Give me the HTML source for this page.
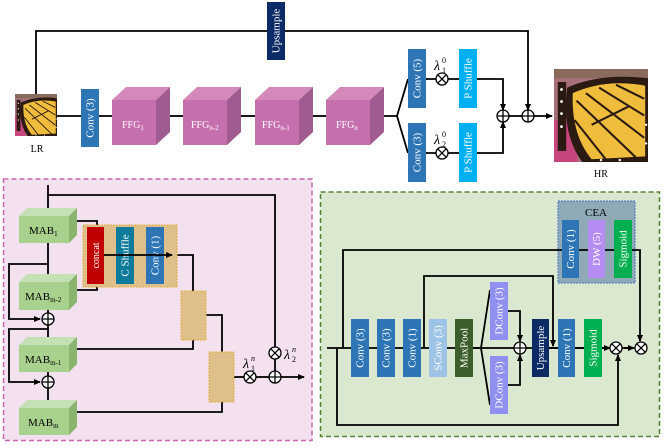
<!DOCTYPE html>
<html><head><meta charset="utf-8"><style>
html,body{margin:0;padding:0;background:#fff;width:664px;height:447px;overflow:hidden}
svg{display:block}
text{font-family:"Liberation Serif",serif}
</style></head><body>
<svg width="664" height="447" viewBox="0 0 664 447" xmlns="http://www.w3.org/2000/svg">
<defs>
<marker id="ar" markerWidth="8" markerHeight="8" refX="6" refY="3" orient="auto" markerUnits="userSpaceOnUse"><path d="M0,0 L7,3 L0,6 z" fill="#000"/></marker>
<g id="bfly">
<rect x="0" y="0" width="100" height="100" fill="#a8707a"/>
<rect x="0" y="55" width="25" height="45" fill="#c8467e"/>
<rect x="0" y="0" width="100" height="10" fill="#8a6a5a"/>
<path d="M14,20 Q50,4 100,10 L100,100 L30,100 Q8,70 14,20z" fill="#2a1a12"/>
<path d="M20,26 Q55,10 97,18 L97,94 L40,97 Q18,70 20,26z" fill="#f0bc3c"/>
<path d="M24,34 L88,96 M34,26 L96,74 M48,20 L96,50 M22,55 L55,97 M66,17 L96,32 M40,60 L80,40" stroke="#2a1a12" stroke-width="2.2" fill="none"/>
<path d="M4,14 L13,14 L13,88 L4,88z" fill="#2a1a12"/>
<g fill="#fff"><circle cx="8" cy="22" r="1.5"/><circle cx="8" cy="35" r="1.5"/><circle cx="8" cy="48" r="1.5"/><circle cx="8" cy="62" r="1.5"/><circle cx="50" cy="98" r="1.3"/><circle cx="70" cy="98" r="1.3"/><circle cx="98" cy="60" r="1.3"/><circle cx="98" cy="80" r="1.3"/></g>
</g>
</defs>

<!-- ===== TOP ===== -->
<g stroke="#000" stroke-width="1.8" fill="none">
<polyline points="36,94 36,31 528,31 528,110" marker-end="url(#ar)"/>
<line x1="57" y1="116" x2="112" y2="116"/>
<line x1="170" y1="116" x2="183" y2="116"/>
<line x1="241" y1="116" x2="255" y2="116"/>
<line x1="312" y1="116" x2="326" y2="116"/>
<polyline points="384,116 397,116 408,79"/>
<polyline points="397,116 408,153"/>
<line x1="426" y1="79" x2="459" y2="79"/>
<line x1="426" y1="153" x2="459" y2="153"/>
<polyline points="477,79 503,79 503,110" marker-end="url(#ar)"/>
<polyline points="477,153 503,153 503,122" marker-end="url(#ar)"/>
<line x1="509" y1="116" x2="522" y2="116"/>
<line x1="534" y1="116" x2="552" y2="116" marker-end="url(#ar)"/>
</g>
<rect x="267" y="2" width="18" height="58" fill="#0c2a66"/>
<text transform="translate(279.5,31) rotate(-90)" text-anchor="middle" font-size="11" fill="#fff">Upsample</text>
<use href="#bfly" transform="translate(15,94) scale(0.42)"/>
<text x="37" y="152" font-size="10" text-anchor="middle">LR</text>
<use href="#bfly" transform="translate(554,69) scale(0.94,0.93)"/>
<text x="601" y="177" font-size="10" text-anchor="middle">HR</text>
<rect x="81" y="89" width="18" height="58" fill="#2e75b6"/>
<text transform="translate(93.5,118) rotate(-90)" text-anchor="middle" font-size="11" fill="#fff">Conv (3)</text>
<!-- cubes -->
<g>
<g transform="translate(112,0)"><polygon points="0,100 14,87 58,87 44,100" fill="#d38aba"/><polygon points="44,100 58,87 58,132 44,145" fill="#a05c90"/><rect x="0" y="100" width="44" height="45" fill="#c66fae"/></g>
<g transform="translate(183,0)"><polygon points="0,100 14,87 58,87 44,100" fill="#d38aba"/><polygon points="44,100 58,87 58,132 44,145" fill="#a05c90"/><rect x="0" y="100" width="44" height="45" fill="#c66fae"/></g>
<g transform="translate(255,0)"><polygon points="0,100 14,87 58,87 44,100" fill="#d38aba"/><polygon points="44,100 58,87 58,132 44,145" fill="#a05c90"/><rect x="0" y="100" width="44" height="45" fill="#c66fae"/></g>
<g transform="translate(326,0)"><polygon points="0,100 14,87 58,87 44,100" fill="#d38aba"/><polygon points="44,100 58,87 58,132 44,145" fill="#a05c90"/><rect x="0" y="100" width="44" height="45" fill="#c66fae"/></g>
</g>
<g fill="#fff" font-size="10">
<text x="122" y="128">FFG<tspan font-size="7" dy="2">1</tspan></text>
<text x="191" y="128">FFG<tspan font-size="7" dy="2">n-2</tspan></text>
<text x="262" y="128">FFG<tspan font-size="7" dy="2">n-1</tspan></text>
<text x="336" y="128">FFG<tspan font-size="7" dy="2">n</tspan></text>
</g>
<rect x="408" y="49" width="18" height="59" fill="#2e75b6"/>
<text transform="translate(420.5,78.5) rotate(-90)" text-anchor="middle" font-size="11" fill="#fff">Conv (5)</text>
<rect x="408" y="123" width="18" height="59" fill="#2e75b6"/>
<text transform="translate(420.5,152.5) rotate(-90)" text-anchor="middle" font-size="11" fill="#fff">Conv (3)</text>
<rect x="459" y="49" width="18" height="59" fill="#00b0f0"/>
<text transform="translate(471.5,78.5) rotate(-90)" text-anchor="middle" font-size="11" fill="#fff">P Shuffle</text>
<rect x="459" y="123" width="18" height="59" fill="#00b0f0"/>
<text transform="translate(471.5,152.5) rotate(-90)" text-anchor="middle" font-size="11" fill="#fff">P Shuffle</text>
<g font-size="14" font-style="italic">
<text x="434" y="70">λ</text><text x="442" y="73" font-size="8" font-style="normal">1</text><text x="442" y="63" font-size="8" font-style="normal">0</text>
<text x="434" y="144">λ</text><text x="442" y="147" font-size="8" font-style="normal">2</text><text x="442" y="137" font-size="8" font-style="normal">0</text>
</g>

<!-- ===== BOTTOM LEFT ===== -->
<rect x="3.5" y="179" width="308.5" height="261.5" fill="#f4e1f0" stroke="#c966b0" stroke-width="1.5" stroke-dasharray="5,3"/>
<g stroke="#000" stroke-width="1.8" fill="none">
<polyline points="48,185 48,409"/>
<polyline points="48,195 275,195 275,347"/>
<polyline points="48,264 9,264 9,319 40,319" marker-end="url(#ar)"/>
<polyline points="48,329 9,329 9,382 40,382" marker-end="url(#ar)"/>
<polyline points="77,221 97,221 97,227"/>
<polyline points="77,290 97,290 97,284"/>
<polyline points="177,255 193,255 193,291"/>
<polyline points="77,349 193,349 193,340"/>
<polyline points="206,315 222,315 222,352"/>
<polyline points="77,412 222,412 222,402"/>
<polyline points="234,377 244,377"/>
<polyline points="256,377 269,377"/>
<polyline points="275,359 275,371"/>
<polyline points="281,377 304,377" marker-end="url(#ar)"/>
</g>
<!-- MABs -->
<g>
<g transform="translate(19,216)"><polygon points="0,0 8,-8 58,-8 50,0" fill="#c5e0b4"/><polygon points="50,0 58,-8 58,19 50,27" fill="#8ab56e"/><rect x="0" y="0" width="50" height="27" fill="#a9d18e"/></g>
<g transform="translate(19,282)"><polygon points="0,0 8,-8 58,-8 50,0" fill="#c5e0b4"/><polygon points="50,0 58,-8 58,20 50,28" fill="#8ab56e"/><rect x="0" y="0" width="50" height="28" fill="#a9d18e"/></g>
<g transform="translate(19,345)"><polygon points="0,0 8,-8 58,-8 50,0" fill="#c5e0b4"/><polygon points="50,0 58,-8 58,19 50,27" fill="#8ab56e"/><rect x="0" y="0" width="50" height="27" fill="#a9d18e"/></g>
<g transform="translate(19,408)"><polygon points="0,0 8,-8 58,-8 50,0" fill="#c5e0b4"/><polygon points="50,0 58,-8 58,19 50,27" fill="#8ab56e"/><rect x="0" y="0" width="50" height="27" fill="#a9d18e"/></g>
</g>
<g font-size="11"><text x="29" y="234">MAB<tspan font-size="7" dy="2">1</tspan></text>
<text x="25" y="300">MAB<tspan font-size="7" dy="2">m-2</tspan></text>
<text x="25" y="363">MAB<tspan font-size="7" dy="2">m-1</tspan></text>
<text x="28" y="426">MAB<tspan font-size="7" dy="2">m</tspan></text></g>
<rect x="83" y="225" width="94" height="62" fill="#dfc08a" stroke="#e0b040" stroke-width="1" stroke-dasharray="2,1"/>
<rect x="87" y="227" width="17" height="57" fill="#c00000"/>
<text transform="translate(99,255.5) rotate(-90)" text-anchor="middle" font-size="10" fill="#fff">concat</text>
<rect x="116" y="227" width="18" height="57" fill="#0e7a9c"/>
<text transform="translate(128.5,255.5) rotate(-90)" text-anchor="middle" font-size="11" fill="#fff">C Shuffle</text>
<rect x="146" y="227" width="18" height="57" fill="#2e75b6"/>
<text transform="translate(158.5,255.5) rotate(-90)" text-anchor="middle" font-size="11" fill="#fff">Conv (1)</text>
<line x1="104" y1="255" x2="172" y2="255" stroke="#000" stroke-width="1.8" marker-end="url(#ar)"/>
<rect x="181" y="291" width="25" height="49" fill="#dfc08a" stroke="#e0b040" stroke-width="1" stroke-dasharray="2,1"/>
<rect x="209" y="352" width="25" height="50" fill="#dfc08a" stroke="#e0b040" stroke-width="1" stroke-dasharray="2,1"/>
<g font-size="14" font-style="italic">
<text x="243" y="368">λ</text><text x="251" y="371" font-size="8" font-style="normal">1</text><text x="251" y="361" font-size="8" font-style="italic">n</text>
<text x="284" y="359">λ</text><text x="292" y="362" font-size="8" font-style="normal">2</text><text x="292" y="352" font-size="8" font-style="italic">n</text>
</g>

<!-- ===== BOTTOM RIGHT ===== -->
<rect x="320.5" y="192" width="339" height="244.5" fill="#dae8d0" stroke="#548235" stroke-width="1.5" stroke-dasharray="5,3"/>
<rect x="558" y="201" width="77" height="82" fill="#8faab6" stroke="#4472c4" stroke-width="1" stroke-dasharray="2,1"/>
<text x="596" y="216" font-size="11" text-anchor="middle">CEA</text>
<g stroke="#000" stroke-width="1.8" fill="none">
<polyline points="327,348 631,348"/>
<polyline points="343,348 343,250 640,250 640,341" marker-end="url(#ar)"/>
<polyline points="424,348 424,276 553,276 553,346" marker-end="url(#ar)"/>
<polyline points="337,348 337,425 618,425 618,355" marker-end="url(#ar)"/>
<polyline points="473,348 481,348 490,290"/>
<polyline points="481,348 490,405"/>
<polyline points="508,311 520,311 520,341" marker-end="url(#ar)"/>
<polyline points="508,385 520,385 520,355" marker-end="url(#ar)"/>
<line x1="602" y1="348" x2="610" y2="348" marker-end="url(#ar)"/>
<line x1="624" y1="348" x2="634" y2="348" marker-end="url(#ar)"/>
</g>
<g font-size="11" fill="#fff">
<rect x="562" y="220" width="17" height="58" fill="#2e75b6"/><text transform="translate(574,249) rotate(-90)" text-anchor="middle">Conv (1)</text>
<rect x="588" y="220" width="17" height="58" fill="#b48cf2"/><text transform="translate(600,249) rotate(-90)" text-anchor="middle">DW (5)</text>
<rect x="614" y="220" width="18" height="58" fill="#00b050"/><text transform="translate(626.5,249) rotate(-90)" text-anchor="middle">Sigmoid</text>
<rect x="351" y="319" width="18" height="58" fill="#2e75b6"/><text transform="translate(363.5,348) rotate(-90)" text-anchor="middle">Conv (3)</text>
<rect x="377" y="319" width="18" height="58" fill="#2e75b6"/><text transform="translate(389.5,348) rotate(-90)" text-anchor="middle">Conv (3)</text>
<rect x="403" y="319" width="18" height="58" fill="#2e75b6"/><text transform="translate(415.5,348) rotate(-90)" text-anchor="middle">Conv (1)</text>
<rect x="429" y="319" width="18" height="58" fill="#9dc3e6"/><text transform="translate(441.5,348) rotate(-90)" text-anchor="middle">SConv (3)</text>
<rect x="455" y="319" width="18" height="58" fill="#3b5e2b"/><text transform="translate(467.5,348) rotate(-90)" text-anchor="middle">MaxPool</text>
<rect x="490" y="282" width="18" height="58" fill="#9090f0"/><text transform="translate(502.5,311) rotate(-90)" text-anchor="middle">DConv (3)</text>
<rect x="490" y="356" width="18" height="58" fill="#9090f0"/><text transform="translate(502.5,385) rotate(-90)" text-anchor="middle">DConv (3)</text>
<rect x="532" y="319" width="17" height="58" fill="#0c2a66"/><text transform="translate(544,348) rotate(-90)" text-anchor="middle">Upsample</text>
<rect x="558" y="319" width="17" height="58" fill="#2e75b6"/><text transform="translate(570,348) rotate(-90)" text-anchor="middle">Conv (1)</text>
<rect x="584" y="319" width="18" height="58" fill="#00b050"/><text transform="translate(596.5,348) rotate(-90)" text-anchor="middle">Sigmoid</text>
</g>
<line x1="549" y1="348" x2="558" y2="348" stroke="#000" stroke-width="1.8"/>
<line x1="575" y1="348" x2="584" y2="348" stroke="#000" stroke-width="1.8"/>

<!-- circles -->
<g fill="#fff" stroke="#000" stroke-width="1.3">
<g transform="translate(442,79)"><circle r="6"/><path d="M-4.2,-4.2L4.2,4.2M-4.2,4.2L4.2,-4.2"/></g>
<g transform="translate(442,153)"><circle r="6"/><path d="M-4.2,-4.2L4.2,4.2M-4.2,4.2L4.2,-4.2"/></g>
<g transform="translate(503,116)"><circle r="6"/><path d="M-6,0H6M0,-6V6"/></g>
<g transform="translate(528,116)"><circle r="6"/><path d="M-6,0H6M0,-6V6"/></g>
<g transform="translate(48,319)"><circle r="6"/><path d="M-6,0H6M0,-6V6"/></g>
<g transform="translate(48,382)"><circle r="6"/><path d="M-6,0H6M0,-6V6"/></g>
<g transform="translate(250,377)"><circle r="6"/><path d="M-4.2,-4.2L4.2,4.2M-4.2,4.2L4.2,-4.2"/></g>
<g transform="translate(275,353)"><circle r="6"/><path d="M-4.2,-4.2L4.2,4.2M-4.2,4.2L4.2,-4.2"/></g>
<g transform="translate(275,377)"><circle r="6"/><path d="M-6,0H6M0,-6V6"/></g>
<g transform="translate(520,348)"><circle r="6"/><path d="M-6,0H6M0,-6V6"/></g>
<g transform="translate(616,348)"><circle r="6"/><path d="M-4.2,-4.2L4.2,4.2M-4.2,4.2L4.2,-4.2"/></g>
<g transform="translate(641,348)"><circle r="6"/><path d="M-4.2,-4.2L4.2,4.2M-4.2,4.2L4.2,-4.2"/></g>
</g>
</svg>
</body></html>
